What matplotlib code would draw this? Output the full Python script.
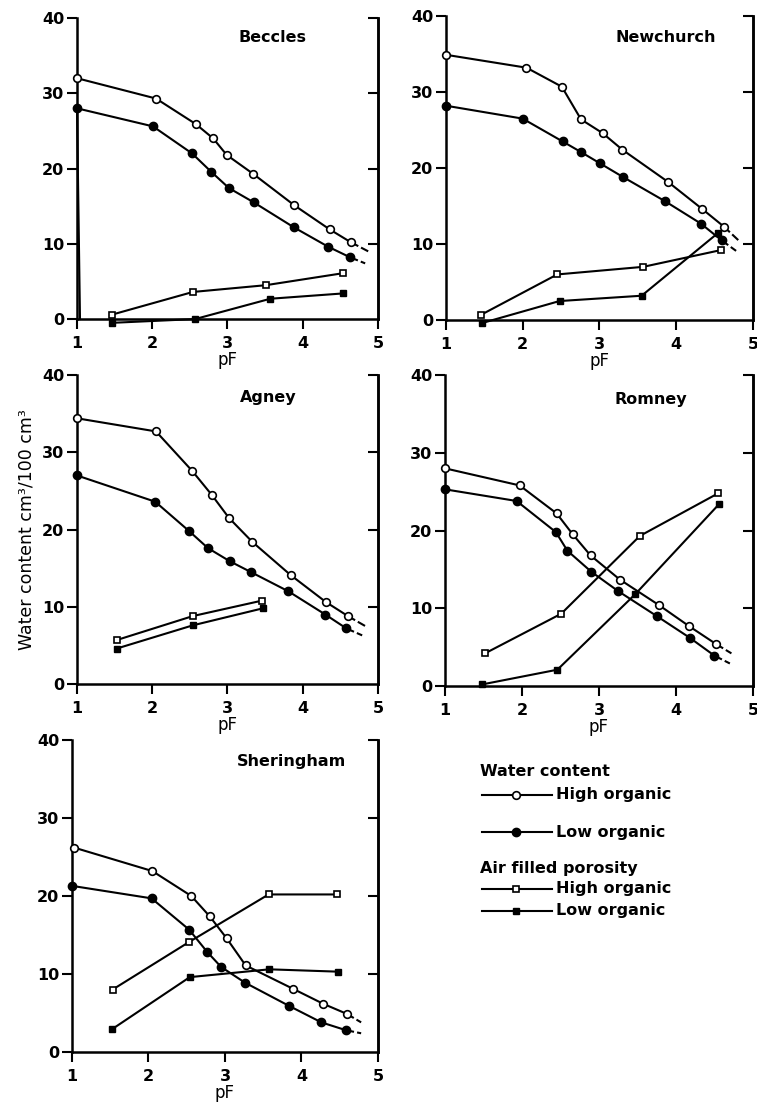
import matplotlib
matplotlib.use("Agg")
import matplotlib.pyplot as plt
from matplotlib.lines import Line2D

plt.rcParams['font.family'] = ['DejaVu Sans']
plt.rcParams['font.weight'] = 'bold'
plt.rcParams['font.size'] = 11.5

# (pF, value) pairs
beccles_water_high = [(1.0, 32.0), (2.05, 29.3), (2.58, 25.9), (2.81, 24.0), (2.99, 21.8),
                      (3.34, 19.3), (3.89, 15.1), (4.36, 11.9), (4.64, 10.2)]
beccles_water_low = [(1.0, 28.0), (2.01, 25.6), (2.53, 22.0), (2.78, 19.6), (3.02, 17.4),
                     (3.35, 15.5), (3.88, 12.2), (4.34, 9.6), (4.63, 8.2)]
beccles_air_high = [(1.47, 0.6), (2.54, 3.6), (3.51, 4.5), (4.54, 6.1)]
beccles_air_low = [(1.47, -0.5), (2.57, 0.0), (3.57, 2.7), (4.53, 3.4)]
beccles_tails = [(4.87, 9.0), (4.83, 7.4)]
beccles_drop = [(1.0, 28.0), (1.04, 0.0)]

newchurch_water_high = [(1.0, 34.9), (2.05, 33.2), (2.51, 30.7), (2.76, 26.4), (3.04, 24.6),
                        (3.30, 22.4), (3.89, 18.2), (4.34, 14.6), (4.62, 12.3)]
newchurch_water_low = [(1.0, 28.2), (2.0, 26.5), (2.52, 23.5), (2.76, 22.1), (3.01, 20.6),
                       (3.31, 18.8), (3.86, 15.6), (4.32, 12.7), (4.59, 10.5)]
newchurch_air_high = [(1.46, 0.7), (2.45, 6.0), (3.57, 7.0), (4.58, 9.2)]
newchurch_air_low = [(1.47, -0.4), (2.48, 2.5), (3.55, 3.2), (4.55, 11.5)]
newchurch_tails = [(4.81, 10.5), (4.78, 9.1)]

agney_water_high = [(1.0, 34.4), (2.05, 32.7), (2.53, 27.6), (2.79, 24.5), (3.02, 21.5),
                    (3.33, 18.4), (3.84, 14.1), (4.31, 10.6), (4.6, 8.8)]
agney_water_low = [(1.0, 27.0), (2.04, 23.6), (2.49, 19.8), (2.74, 17.6), (3.03, 15.9),
                   (3.31, 14.5), (3.81, 12.0), (4.3, 9.0), (4.58, 7.2)]
agney_air_high = [(1.53, 5.7), (2.54, 8.8), (3.46, 10.8)]
agney_air_low = [(1.53, 4.6), (2.54, 7.6), (3.47, 9.8)]
agney_tails = [(4.85, 7.4), (4.79, 6.3)]

romney_water_high = [(1.0, 28.0), (1.97, 25.8), (2.45, 22.2), (2.66, 19.5), (2.89, 16.8),
                     (3.27, 13.7), (3.78, 10.4), (4.17, 7.7), (4.52, 5.4)]
romney_water_low = [(1.0, 25.3), (1.93, 23.8), (2.44, 19.8), (2.59, 17.4), (2.90, 14.7),
                    (3.25, 12.2), (3.75, 9.0), (4.18, 6.2), (4.50, 3.9)]
romney_air_high = [(1.52, 4.2), (2.51, 9.3), (3.53, 19.3), (4.55, 24.8)]
romney_air_low = [(1.48, 0.2), (2.46, 2.1), (3.47, 11.8), (4.56, 23.4)]
romney_tails = [(4.72, 4.2), (4.70, 2.9)]

sheringham_water_high = [(1.03, 26.2), (2.05, 23.2), (2.56, 20.0), (2.8, 17.4), (3.02, 14.6),
                         (3.27, 11.1), (3.89, 8.1), (4.28, 6.2), (4.59, 4.9)]
sheringham_water_low = [(1.0, 21.3), (2.04, 19.7), (2.53, 15.7), (2.77, 12.8), (2.95, 10.9),
                        (3.26, 8.9), (3.84, 5.9), (4.26, 3.8), (4.58, 2.8)]
sheringham_air_high = [(1.53, 8.0), (2.53, 14.1), (3.57, 20.2), (4.46, 20.2)]
sheringham_air_low = [(1.52, 2.9), (2.54, 9.6), (3.58, 10.6), (4.48, 10.3)]
sheringham_tails = [(4.78, 3.8), (4.78, 2.4)]

x_ticks = [1, 2, 3, 4, 5]
y_ticks = [0, 10, 20, 30, 40]

# panel boxes in figure fractions and title spot in axes fractions
panels = [
    ("Beccles", [0.1017, 0.7110, 0.3976, 0.2727], (0.648, 0.934),
     beccles_water_high, beccles_water_low, beccles_air_high, beccles_air_low, beccles_tails),
    ("Newchurch", [0.589, 0.7101, 0.4057, 0.2754], (0.717, 0.93),
     newchurch_water_high, newchurch_water_low, newchurch_air_high, newchurch_air_low, newchurch_tails),
    ("Agney", [0.1017, 0.3804, 0.3976, 0.2799], (0.635, 0.926),
     agney_water_high, agney_water_low, agney_air_high, agney_air_low, agney_tails),
    ("Romney", [0.5878, 0.3786, 0.4069, 0.2817], (0.669, 0.92),
     romney_water_high, romney_water_low, romney_air_high, romney_air_low, romney_tails),
    ("Sheringham", [0.0951, 0.0471, 0.4042, 0.2826], (0.719, 0.93),
     sheringham_water_high, sheringham_water_low, sheringham_air_high, sheringham_air_low, sheringham_tails),
]

LW = 1.5
styles = {
    "water_high": dict(marker="o", ms=5.5, mfc="white", mec="black", mew=1.2),
    "water_low": dict(marker="o", ms=6, mfc="black", mec="black", mew=1.0),
    "air_high": dict(marker="s", ms=5, mfc="white", mec="black", mew=1.2),
    "air_low": dict(marker="s", ms=4.8, mfc="black", mec="black", mew=1.0),
}


def xy(points):
    return [p[0] for p in points], [p[1] for p in points]


fig = plt.figure(figsize=(7.57, 11.04), dpi=100)

for name, box, title_pos, wh, wl, ah, al, tails in panels:
    ax = fig.add_axes(box)
    ax.set_xlim(1, 5)
    ax.set_ylim(0, 40)

    for key, pts in (("water_high", wh), ("water_low", wl), ("air_high", ah), ("air_low", al)):
        x, y = xy(pts)
        ax.plot(x, y, color="black", lw=LW, clip_on=False, zorder=3, **styles[key])
    # dashed continuation past the last measured point
    for pts, tail in ((wh, tails[0]), (wl, tails[1])):
        ax.plot([pts[-1][0], tail[0]], [pts[-1][1], tail[1]], color="black", lw=LW,
                ls=(0, (4, 1.5)), clip_on=False, zorder=2)
    if name == "Beccles":
        x, y = xy(beccles_drop)
        ax.plot(x, y, color="black", lw=LW, clip_on=False, zorder=2)

    ax.text(title_pos[0], title_pos[1], name, transform=ax.transAxes,
            ha="center", va="center", fontsize=11.5)

    for s in ("left", "bottom", "right"):
        ax.spines[s].set_linewidth(1.8)
    ax.spines["top"].set_visible(False)
    ax.set_xticks(x_ticks)
    ax.set_yticks(y_ticks)
    ax.tick_params(axis="both", direction="out", length=7, width=1.5, labelsize=11.5)
    ax.tick_params(axis="x", pad=5)
    ax.tick_params(axis="y", pad=2)
    ax.set_xlabel("pF", fontsize=12, labelpad=0)

    rax = ax.twinx()
    rax.set_ylim(0, 40)
    rax.set_yticks(y_ticks[1:])
    rax.tick_params(axis="y", direction="in", length=7, width=1.5, labelright=False)
    for s in ("top", "left", "bottom"):
        rax.spines[s].set_visible(False)
    rax.spines["right"].set_linewidth(1.8)

    if name == "Agney":
        ax.set_ylabel("Water content cm³/100 cm³", fontsize=12.5, fontweight="normal", labelpad=5)

# legend drawn in figure fractions
W, H = 757.0, 1104.0
leg = fig.add_axes([0, 0, 1, 1], facecolor="none")
leg.set_xlim(0, W)
leg.set_ylim(H, 0)
leg.axis("off")

legend_rows = [
    ("title", "Water content", 772, None),
    ("item", "High organic", 795, "water_high"),
    ("item", "Low organic", 832, "water_low"),
    ("title", "Air filled porosity", 868, None),
    ("item", "High organic", 889, "air_high"),
    ("item", "Low organic", 911, "air_low"),
]
for kind, label, yy, key in legend_rows:
    if kind == "title":
        leg.text(480, yy, label, ha="left", va="center", fontsize=11.5)
    else:
        leg.add_line(Line2D([482, 552], [yy, yy], color="black", lw=LW))
        leg.add_line(Line2D([516], [yy], color="black", lw=0, **styles[key]))
        leg.text(556, yy, label, ha="left", va="center", fontsize=11.5)

fig.savefig("out.png", dpi=100)
